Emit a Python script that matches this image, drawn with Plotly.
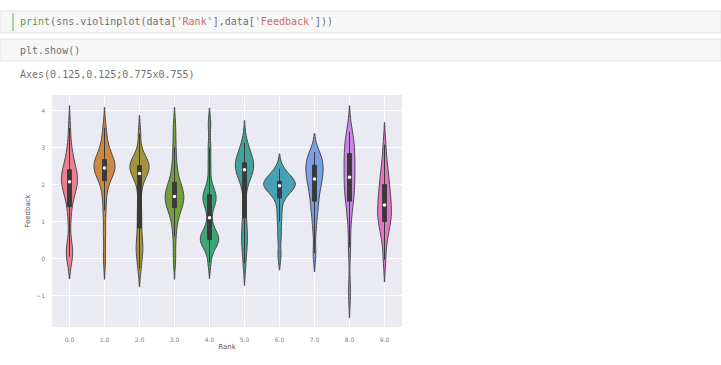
import colorsys

import numpy as np
import plotly.graph_objects as go

# Rank categories on the x axis
ranks = ["0.0", "1.0", "2.0", "3.0", "4.0", "5.0", "6.0", "7.0", "8.0", "9.0"]

# Feedback samples for every rank
feedback_r0 = [0.05, 0.1, 0.2, 0.3, 1.0, 1.4, 1.6, 1.8, 1.9, 1.95, 2.05, 2.1, 2.1,
               2.2, 2.2, 2.3, 2.4, 2.5, 2.6, 2.8, 3.0, 3.53]
feedback_r1 = [0.0, 0.7, 1.3, 1.7, 2.0, 2.2, 2.3, 2.35, 2.4, 2.45, 2.45, 2.5, 2.55,
               2.6, 2.65, 2.7, 2.8, 3.0, 3.2, 3.53]
feedback_r2 = [-0.27, 0.05, 0.25, 0.35, 0.6, 0.9, 1.2, 1.5, 1.9, 2.2, 2.3, 2.35,
               2.4, 2.45, 2.5, 2.5, 2.55, 2.6, 2.7, 2.8, 3.37]
feedback_r3 = [0.0, 0.6, 1.0, 1.2, 1.35, 1.45, 1.5, 1.6, 1.62, 1.68, 1.72, 1.8,
               1.85, 1.95, 2.1, 2.3, 2.6, 3.0, 3.53]
feedback_r4 = [-0.1, 0.3, 0.4, 0.45, 0.5, 0.52, 0.55, 0.6, 0.65, 0.8, 1.1, 1.4,
               1.55, 1.6, 1.65, 1.7, 1.8, 2.0, 2.5, 3.0, 3.63]
feedback_r5 = [-0.13, 0.3, 0.5, 0.7, 1.0, 1.4, 2.0, 2.2, 2.3, 2.4, 2.45, 2.5, 2.5,
               2.55, 2.6, 2.7, 2.8, 2.9, 3.13]
feedback_r6 = [0.09, 0.6, 1.0, 1.3, 1.6, 1.75, 1.85, 1.9, 1.95, 1.97, 2.0, 2.0,
               2.02, 2.05, 2.1, 2.15, 2.2, 2.3, 2.43]
feedback_r7 = [0.14, 0.8, 1.2, 1.4, 1.6, 1.8, 1.95, 2.05, 2.15, 2.25, 2.35, 2.45,
               2.5, 2.6, 2.7, 2.8, 2.88]
feedback_r8 = [-0.9, 0.3, 1.0, 1.4, 1.6, 1.75, 1.9, 2.05, 2.2, 2.35, 2.5, 2.65,
               2.8, 2.95, 3.1, 3.25, 3.43]
feedback_r9 = [-0.03, 0.5, 0.7, 0.9, 1.0, 1.1, 1.2, 1.3, 1.4, 1.5, 1.6, 1.8, 1.9,
               2.0, 2.2, 2.4, 2.6, 3.08]

feedback = [feedback_r0, feedback_r1, feedback_r2, feedback_r3, feedback_r4,
            feedback_r5, feedback_r6, feedback_r7, feedback_r8, feedback_r9]

# KDE bandwidth per rank
bandwidths = [0.3, 0.28, 0.25, 0.28, 0.22, 0.3, 0.2, 0.25, 0.35, 0.3]

# seaborn "husl" palette with 10 colours
husl10 = ["#f77189", "#dc8932", "#ae9d31", "#77ab31", "#33b07a",
          "#36ada4", "#38a9c5", "#6e9bf4", "#cc7af4", "#f565cc"]

MAX_WIDTH = 0.9      # width of the densest violin, in category units
BOX_WIDTH = 0.11     # inner box width, in category units


def desaturate(hex_color, prop=0.8):
    r, g, b = (int(hex_color[i:i + 2], 16) / 255 for i in (1, 3, 5))
    h, l, s = colorsys.rgb_to_hls(r, g, b)
    r, g, b = colorsys.hls_to_rgb(h, l, s * prop)
    return "#%02x%02x%02x" % (round(r * 255), round(g * 255), round(b * 255))


def kde_peak(values, bw):
    """Highest value of a gaussian KDE over the violin's span."""
    v = np.asarray(values, dtype=float)
    grid = np.linspace(v.min() - 2 * bw, v.max() + 2 * bw, 400)
    dens = np.exp(-0.5 * ((grid[:, None] - v[None, :]) / bw) ** 2).sum(axis=1)
    return dens.max() / (len(v) * bw * np.sqrt(2 * np.pi))


# equal-area scaling: every violin's width follows its peak density
peaks = [kde_peak(v, bw) for v, bw in zip(feedback, bandwidths)]
widths = [MAX_WIDTH * p / max(peaks) for p in peaks]

EDGE = "#4b4b4b"
INNER = "#3a3a3a"

fig = go.Figure()
for rank, values, bw, col, w in zip(ranks, feedback, bandwidths, husl10, widths):
    fig.add_trace(go.Violin(
        x=[rank] * len(values),
        y=values,
        name=rank,
        bandwidth=bw,
        spanmode="soft",
        scalemode="width",
        width=w,
        fillcolor=desaturate(col),
        opacity=1,
        line=dict(color=EDGE, width=1),
        points=False,
        box=dict(visible=True, width=min(1.0, BOX_WIDTH / w), fillcolor=INNER,
                 line=dict(color=INNER, width=1)),
        meanline=dict(visible=False),
        hoverinfo="skip",
        showlegend=False,
    ))

# white median dots
fig.add_trace(go.Scatter(
    x=ranks,
    y=[float(np.median(v)) for v in feedback],
    mode="markers",
    marker=dict(color="white", size=3.5, line=dict(width=0)),
    hoverinfo="skip",
    showlegend=False,
))

# notebook cells above the figure (pixel positions mapped onto the plot domain)
PLOT_L, PLOT_B, PLOT_W, PLOT_H = 52, 327, 350, 232


def dx(px):
    return (px - PLOT_L) / PLOT_W


def dy(py):
    return (PLOT_B - py) / PLOT_H


fig.update_layout(shapes=[
    dict(type="rect", xref="x domain", yref="y domain",
         x0=dx(0), x1=dx(721), y0=dy(11), y1=dy(33),
         line=dict(color="#e3e3e3", width=1), fillcolor="#f7f7f7", layer="below"),
    dict(type="line", xref="x domain", yref="y domain",
         x0=dx(13), x1=dx(13), y0=dy(13), y1=dy(31),
         line=dict(color="#8cc98c", width=1.5)),
    dict(type="rect", xref="x domain", yref="y domain",
         x0=dx(0), x1=dx(721), y0=dy(39), y1=dy(61),
         line=dict(color="#e3e3e3", width=1), fillcolor="#f7f7f7", layer="below"),
])

line1 = ("<span style='color:#5c9a5c'>print</span>(sns.violinplot(data["
         "<span style='color:#c86a6a'>'Rank'</span>],data["
         "<span style='color:#c86a6a'>'Feedback'</span>]))")
code_lines = [(line1, 22), ("plt.show()", 50), ("Axes(0.125,0.125;0.775x0.755)", 75)]
fig.update_layout(annotations=[
    dict(text=txt, xref="x domain", yref="y domain", x=dx(18), y=dy(py),
         xanchor="left", yanchor="middle", showarrow=False,
         font=dict(family="DejaVu Sans Mono", size=10, color="#707070"))
    for txt, py in code_lines
])

fig.update_layout(
    width=721,
    height=365,
    margin=dict(l=PLOT_L, r=721 - PLOT_L - PLOT_W, t=PLOT_B - PLOT_H, b=365 - PLOT_B),
    paper_bgcolor="white",
    plot_bgcolor="#eaeaf2",
    violinmode="overlay",
    violingap=0,
    font=dict(family="DejaVu Sans", size=7, color="#666666"),
    xaxis=dict(
        title=dict(text="Rank", font=dict(size=7, color="#555555"), standoff=2),
        type="category",
        categoryorder="array",
        categoryarray=ranks,
        range=[-0.5, 9.5],
        showgrid=True,
        gridcolor="white",
        gridwidth=1,
        zeroline=False,
        showline=False,
        ticks="",
        ticklabelstandoff=8,
        tickfont=dict(size=6, color="#808080"),
    ),
    yaxis=dict(
        title=dict(text="Feedback", font=dict(size=7, color="#555555"), standoff=4),
        range=[-1.85, 4.42],
        tickvals=[-1, 0, 1, 2, 3, 4],
        showgrid=True,
        gridcolor="white",
        gridwidth=1,
        zeroline=False,
        showline=False,
        ticks="",
        ticklabelstandoff=6,
        tickfont=dict(size=6, color="#808080"),
    ),
)

fig.write_html("out.html")
